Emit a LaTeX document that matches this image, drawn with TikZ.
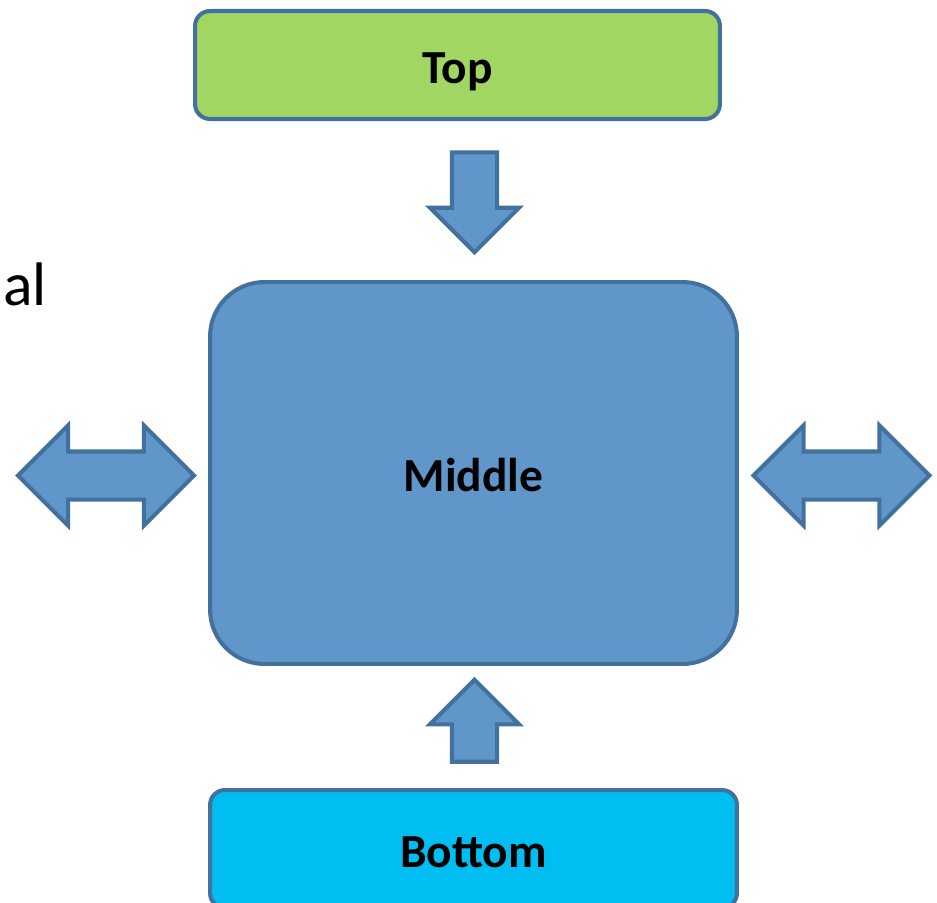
\documentclass[tikz,border=0pt]{standalone}
\usepackage{fontspec}
\setmainfont{Carlito}
\usetikzlibrary{shapes.arrows}

\definecolor{edgeblue}{RGB}{65,113,156}
\definecolor{midblue}{RGB}{97,150,202}
\definecolor{topgreen}{RGB}{162,214,98}
\definecolor{botcyan}{RGB}{0,189,242}

\tikzset{
  box/.style={draw=edgeblue, line width=2.3pt, inner sep=0pt,
    font=\bfseries\fontsize{27}{32}\selectfont, text height=24.3pt, text depth=2.7pt},
  vblock/.style={single arrow, draw=edgeblue, fill=midblue, line width=2.3pt,
    inner xsep=0pt, inner ysep=0.41cm, minimum height=#1,
    single arrow head extend=0.44cm, single arrow tip angle=90},
  hblock/.style={double arrow, draw=edgeblue, fill=midblue, line width=2.3pt,
    inner xsep=0pt, inner ysep=0.44cm, minimum height=3.52cm,
    double arrow head extend=0.52cm, double arrow tip angle=90},
}

\begin{document}
\begin{tikzpicture}[x=0.02cm, y=-0.02cm]
\useasboundingbox (0,0) rectangle (937,903);

% boxes
\node[box, fill=topgreen, rounded corners=8.5pt, minimum width=10.5cm, minimum height=2.16cm]
  (top) at (457.5,65) {Top};
\node[box, fill=midblue, rounded corners=31pt, minimum width=10.54cm, minimum height=7.64cm]
  (middle) at (473.5,473) {Middle};
\node[box, fill=botcyan, rounded corners=8.5pt, minimum width=10.54cm, minimum height=2.36cm]
  (bottom) at (473.5,849) {Bottom};

% block arrows
\node[vblock=2.0cm, rotate=-90] (down) at (474.5,191) {};
\node[vblock=1.64cm, rotate=90] (up) at (474.5,732) {};
\node[hblock] (left) at (106,475.5) {};
\node[hblock] (right) at (841.5,475.5) {};

% cut-off text
\node[anchor=base west, inner sep=0pt, font=\fontsize{35}{40}\selectfont] (al) at (3,305) {al};

\end{tikzpicture}
\end{document}
